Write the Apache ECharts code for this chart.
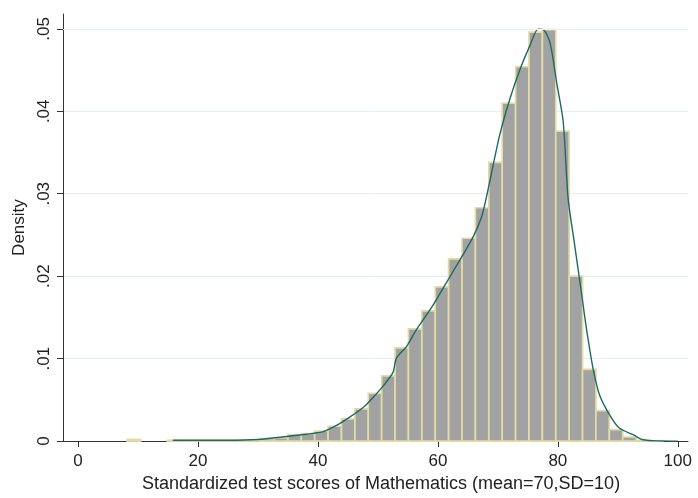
<!DOCTYPE html>
<html>
<head>
<meta charset="utf-8">
<script src="https://cdn.jsdelivr.net/npm/echarts@6/dist/echarts.min.js"></script>
<style>html,body{margin:0;padding:0;background:#fff}#c{width:698px;height:498px}</style>
</head>
<body>
<div id="c"></div>
<script>
// Histogram bins (Stata default): first bin start and bin width
var binStart = 8.2;
var binWidth = 2.233;
// Density of each bin
var binDensity = [
  0.0002, 0, 0, 0.0001, 0.0001, 0.0001, 0.0001, 0.0001, 0.0001, 0.0001,
  0.0003, 0.0004, 0.0008, 0.0009, 0.0012, 0.0018, 0.0027, 0.0039, 0.0058, 0.0079,
  0.0113, 0.0136, 0.0158, 0.0187, 0.0221, 0.0246, 0.0283, 0.0338, 0.0410, 0.0454,
  0.0496, 0.0499, 0.0376, 0.0200, 0.0087, 0.0037, 0.0014, 0.0005, 0.0001, 0.00005, 0
];
// Kernel density curve
var kdeX = [15.8, 20, 25, 30, 34.8, 38.1, 40.9, 43.1, 45.3, 47.6, 49.2, 50.9, 52.5, 53.1, 54.8, 56.4, 59.2, 61.4, 63.7, 65.9, 67.3, 68.1, 70.3, 72, 73.7, 75.3, 76.7, 77.6, 78.7, 79.8, 80.9, 81.7, 82.8, 83.95, 84.8, 85.9, 87, 88.7, 90.3, 92.6, 94.2, 97, 100];
var kdeY = [0.0001, 0.0001, 0.0001, 0.0002, 0.00056, 0.00083, 0.00115, 0.0019, 0.0029, 0.0041, 0.0053, 0.0067, 0.0083, 0.0101, 0.0115, 0.0135, 0.0165, 0.0192, 0.022, 0.0248, 0.0272, 0.0296, 0.0371, 0.0415, 0.0451, 0.0479, 0.04996, 0.0499, 0.0483, 0.0435, 0.0387, 0.0295, 0.0238, 0.0179, 0.0135, 0.0087, 0.0055, 0.0031, 0.00155, 0.00075, 0.00016, 0.00002, 0];
// Tick labels
var xTicks = [0, 20, 40, 60, 80, 100];
var yTicks = [0, 0.01, 0.02, 0.03, 0.04, 0.05];
var xTitle = 'Standardized test scores of Mathematics (mean=70,SD=10)';
var yTitle = 'Density';
var yTop = 0.0518;

var barData = binDensity.map(function (d, i) {
  var x0 = binStart + i * binWidth;
  return [x0, x0 + binWidth, d];
});
var lineData = kdeX.map(function (x, i) { return [x, kdeY[i]]; });

var FONT = "'Liberation Sans', Arial, sans-serif";
var chart = echarts.init(document.getElementById('c'), null, {renderer: 'canvas'});
chart.setOption({
  animation: false,
  backgroundColor: '#ffffff',
  grid: {left: 63, right: 10, top: 14, bottom: 50},
  xAxis: {
    type: 'value', min: -2.5, max: 101.7,
    axisLine: {show: true, onZero: false, lineStyle: {color: '#333', width: 1}},
    axisTick: {show: true, length: 6, lineStyle: {color: '#333'}, customValues: xTicks},
    axisLabel: {customValues: xTicks, color: '#222', fontSize: 17, fontFamily: FONT, margin: 12},
    splitLine: {show: false},
    name: xTitle, nameLocation: 'middle', nameGap: 26,
    nameTextStyle: {color: '#222', fontSize: 18, fontFamily: FONT, padding: [0, 0, 0, 11]}
  },
  yAxis: {
    type: 'value', min: 0, max: yTop,
    axisLine: {show: true, onZero: false, lineStyle: {color: '#333', width: 1}},
    axisTick: {show: true, length: 6, lineStyle: {color: '#333'}, customValues: yTicks},
    axisLabel: {
      customValues: yTicks, rotate: 90, color: '#222', fontSize: 17, fontFamily: FONT, margin: 10,
      formatter: function (v) { return v === 0 ? '0' : v.toFixed(2).replace(/^0/, ''); }
    },
    splitLine: {show: true, lineStyle: {color: '#e6efef', width: 1}},
    name: yTitle, nameLocation: 'middle', nameGap: 34, nameRotate: 90,
    nameTextStyle: {color: '#222', fontSize: 17, fontFamily: FONT}
  },
  series: [
    {
      type: 'custom',
      data: barData,
      encode: {x: [0, 1], y: 2},
      renderItem: function (params, api) {
        var v = api.value(2);
        if (!(v > 0)) return null;
        var p0 = api.coord([api.value(0), v]);
        var p1 = api.coord([api.value(1), 0]);
        return {
          type: 'rect',
          shape: {x: p0[0], y: p0[1], width: p1[0] - p0[0], height: p1[1] - p0[1]},
          style: {fill: '#a2a2a2', stroke: '#e3dba6', lineWidth: 1.7}
        };
      },
      z: 2
    },
    {
      type: 'line',
      data: lineData,
      showSymbol: false,
      smooth: 0.25,
      lineStyle: {color: '#1d6a64', width: 1.4},
      markLine: {
        silent: true, symbol: 'none', label: {show: false},
        lineStyle: {color: '#e6efef', type: 'solid', width: 1},
        data: [{yAxis: yTop}]
      },
      z: 3
    }
  ]
});
</script>
</body>
</html>
